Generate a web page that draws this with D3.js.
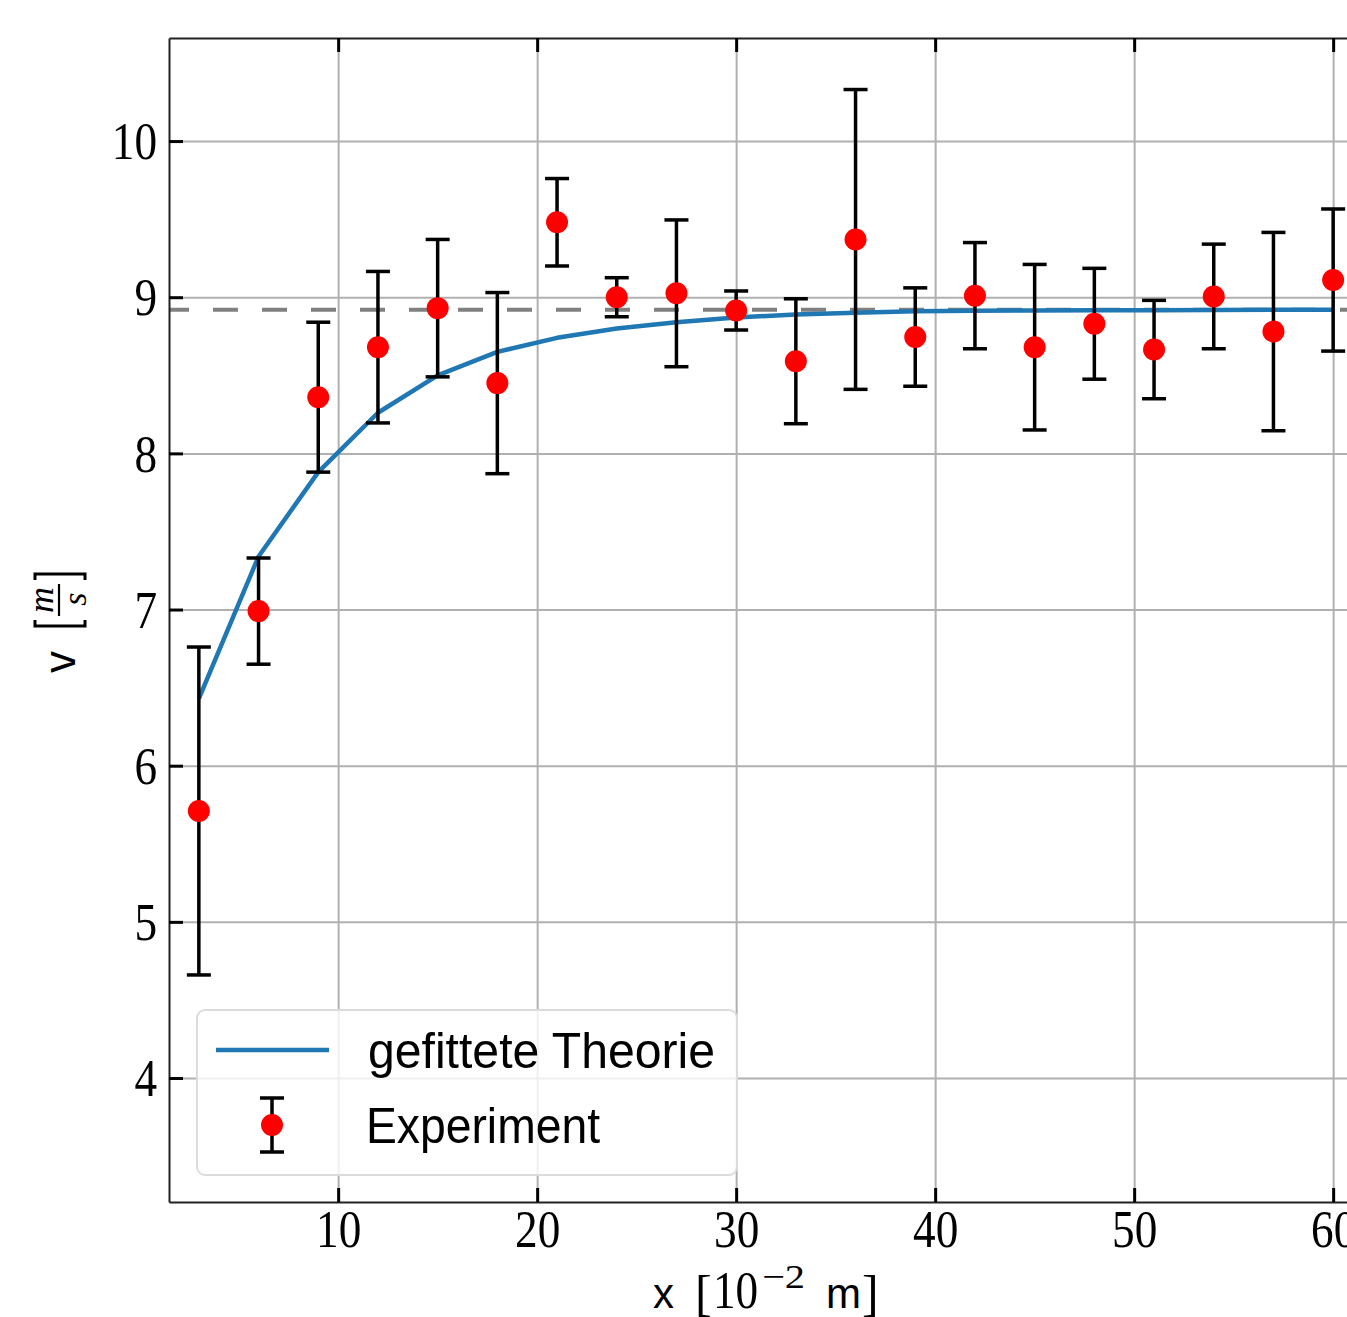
<!DOCTYPE html>
<html>
<head>
<meta charset="utf-8">
<script src="https://cdn.jsdelivr.net/npm/d3@7"></script>
<style>
  html, body { margin: 0; padding: 0; background: #fff; }
  svg { display: block; }
</style>
</head>
<body>
<svg id="chart" width="1347" height="1317"></svg>
<script>
// ---------------- data ----------------
const xPos = [3, 6, 9, 12, 15, 18, 21, 24, 27, 30, 33, 36, 39, 42, 45, 48, 51, 54, 57, 60];
const vMeasured = [5.71, 6.99, 8.36, 8.68, 8.93, 8.45, 9.48, 9.00, 9.025, 8.915, 8.59, 9.37, 8.745, 9.01, 8.68, 8.83, 8.665, 9.005, 8.78, 9.11];
const vError = [1.05, 0.34, 0.48, 0.485, 0.44, 0.58, 0.28, 0.125, 0.47, 0.125, 0.40, 0.96, 0.315, 0.34, 0.53, 0.355, 0.315, 0.335, 0.635, 0.455];
const vFit = [6.43, 7.34, 7.88, 8.26, 8.50, 8.65, 8.74, 8.80, 8.84, 8.87, 8.89, 8.90, 8.91, 8.913, 8.915, 8.916, 8.917, 8.918, 8.919, 8.919];
const vAsymptote = 8.92;
const xTicks = [10, 20, 30, 40, 50, 60];
const yTicks = [4, 5, 6, 7, 8, 9, 10];
const legendLabels = ["gefittete Theorie", "Experiment"];

// ---------------- layout ----------------
const svg = d3.select("#chart");
const L = 169, R = 1363, T = 38, B = 1202;
const x = d3.scaleLinear().domain([1.5, 61.5]).range([L, R]);
const y = d3.scaleLinear().domain([3.206, 10.66]).range([B, T]);
const SERIF = "'Liberation Serif', 'DejaVu Serif', serif";
const SANS = "'Liberation Sans', 'DejaVu Sans', sans-serif";
const DIGIT_SX = 0.87;

svg.append("defs").append("clipPath").attr("id", "plotclip")
  .append("rect").attr("x", L).attr("y", T).attr("width", R - L).attr("height", B - T);

// grid
svg.append("g").attr("transform", `translate(0,${B})`)
  .call(d3.axisBottom(x).tickValues(xTicks).tickSize(-(B - T)).tickFormat(""))
  .call(g => g.select(".domain").remove())
  .call(g => g.selectAll("line").attr("stroke", "#b0b0b0").attr("stroke-width", 2));
svg.append("g").attr("transform", `translate(${L},0)`)
  .call(d3.axisLeft(y).tickValues(yTicks).tickSize(-(R - L)).tickFormat(""))
  .call(g => g.select(".domain").remove())
  .call(g => g.selectAll("line").attr("stroke", "#b0b0b0").attr("stroke-width", 2));

const plot = svg.append("g").attr("clip-path", "url(#plotclip)");

// dashed asymptote
plot.append("line")
  .attr("x1", x(1.5)).attr("x2", x(61.5))
  .attr("y1", y(vAsymptote)).attr("y2", y(vAsymptote))
  .attr("stroke", "#808080").attr("stroke-width", 4)
  .attr("stroke-dasharray", "25,24").attr("stroke-dashoffset", 5);

// fitted curve
plot.append("path")
  .datum(xPos.map((d, i) => [d, vFit[i]]))
  .attr("fill", "none").attr("stroke", "#1f77b4").attr("stroke-width", 4.5)
  .attr("stroke-linejoin", "round").attr("stroke-linecap", "butt")
  .attr("d", d3.line().x(d => x(d[0])).y(d => y(d[1])));

// error bars
const pts = xPos.map((d, i) => ({ x: d, v: vMeasured[i], e: vError[i] }));
const eb = plot.append("g").selectAll("g").data(pts).join("g");
eb.append("line")
  .attr("x1", d => x(d.x)).attr("x2", d => x(d.x))
  .attr("y1", d => y(d.v - d.e)).attr("y2", d => y(d.v + d.e))
  .attr("stroke", "#000").attr("stroke-width", 3.5);
[-1, 1].forEach(s => {
  eb.append("line")
    .attr("x1", d => x(d.x) - 12).attr("x2", d => x(d.x) + 12)
    .attr("y1", d => y(d.v + s * d.e)).attr("y2", d => y(d.v + s * d.e))
    .attr("stroke", "#000").attr("stroke-width", 3.5);
});
eb.append("circle")
  .attr("cx", d => x(d.x)).attr("cy", d => y(d.v)).attr("r", 11)
  .attr("fill", "#ff0000");

// axes with inward ticks
function styleTicks(g) {
  g.select(".domain").attr("stroke", "#222").attr("stroke-width", 2);
  g.selectAll(".tick line").attr("stroke", "#000").attr("stroke-width", 3);
}
svg.append("g").attr("transform", `translate(0,${B})`)
  .call(d3.axisBottom(x).tickValues(xTicks).tickSize(-14).tickSizeOuter(0).tickFormat(d3.format("d")))
  .call(styleTicks)
  .call(g => g.selectAll(".tick text")
    .attr("y", 45).attr("dy", null).attr("x", 0)
    .attr("transform", `scale(${DIGIT_SX},1)`)
    .attr("font-family", SERIF).attr("font-size", 52).attr("fill", "#000"));
svg.append("g").attr("transform", `translate(0,${T})`)
  .call(d3.axisTop(x).tickValues(xTicks).tickSize(-14).tickSizeOuter(0).tickFormat(""))
  .call(styleTicks);
svg.append("g").attr("transform", `translate(${L},0)`)
  .call(d3.axisLeft(y).tickValues(yTicks).tickSize(-14).tickSizeOuter(0).tickFormat(d3.format("d")))
  .call(styleTicks)
  .call(g => g.selectAll(".tick text")
    .attr("x", -12 / DIGIT_SX).attr("dy", "0.34em")
    .attr("transform", `scale(${DIGIT_SX},1)`)
    .attr("text-anchor", "end")
    .attr("font-family", SERIF).attr("font-size", 52).attr("fill", "#000"));
// right spine (mostly off canvas)
svg.append("line").attr("x1", R).attr("x2", R).attr("y1", T).attr("y2", B)
  .attr("stroke", "#222").attr("stroke-width", 2);

// ---------------- x label ----------------
const xl = svg.append("g").attr("fill", "#000");
const xb = 1308;
xl.append("text").attr("x", 653).attr("y", xb).attr("font-family", SANS).attr("font-size", 42).text("x");
xl.append("text").attr("x", 695).attr("y", xb + 2).attr("font-family", SERIF).attr("font-size", 50).text("[");
xl.append("text").attr("x", 713 / DIGIT_SX).attr("y", xb).attr("transform", `scale(${DIGIT_SX},1)`)
  .attr("font-family", SERIF).attr("font-size", 52).text("10");
xl.append("text").attr("x", 762).attr("y", 1288).attr("font-family", SERIF).attr("font-size", 34)
  .attr("textLength", 43).attr("lengthAdjust", "spacingAndGlyphs").text("\u22122");
xl.append("text").attr("x", 826).attr("y", xb).attr("font-family", SANS).attr("font-size", 42).text("m");
xl.append("text").attr("x", 862).attr("y", xb + 2).attr("font-family", SERIF).attr("font-size", 50).text("]");

// ---------------- y label ----------------
const yl = svg.append("g").attr("transform", "translate(60,620) rotate(-90)");
yl.append("text").attr("x", -53).attr("y", 15).attr("font-family", SANS).attr("font-size", 44).attr("fill", "#000").text("v");
yl.append("path").attr("d", "M0,-25 L-6,-25 L-6,25 L0,25")
  .attr("fill", "none").attr("stroke", "#000").attr("stroke-width", 3);
yl.append("path").attr("d", "M40,-25 L46,-25 L46,25 L40,25")
  .attr("fill", "none").attr("stroke", "#000").attr("stroke-width", 3);
yl.append("line").attr("x1", 4).attr("x2", 36).attr("y1", -1).attr("y2", -1)
  .attr("stroke", "#000").attr("stroke-width", 2.2);
yl.append("text").attr("x", 20).attr("y", -7).attr("text-anchor", "middle")
  .attr("font-family", SERIF).attr("font-style", "italic").attr("font-size", 36).attr("fill", "#000").text("m");
yl.append("text").attr("x", 21).attr("y", 26).attr("text-anchor", "middle")
  .attr("font-family", SERIF).attr("font-style", "italic").attr("font-size", 34).attr("fill", "#000").text("s");

// ---------------- legend ----------------
const lg = svg.append("g");
lg.append("rect").attr("x", 197).attr("y", 1010).attr("width", 540).attr("height", 165)
  .attr("rx", 8).attr("ry", 8)
  .attr("fill", "#fff").attr("fill-opacity", 0.8)
  .attr("stroke", "#dcdcdc").attr("stroke-width", 2);
lg.append("line").attr("x1", 216).attr("x2", 329).attr("y1", 1050).attr("y2", 1050)
  .attr("stroke", "#1f77b4").attr("stroke-width", 4.5);
lg.append("text").attr("x", 368).attr("y", 1068).attr("font-family", SANS).attr("font-size", 50)
  .attr("textLength", 347).attr("lengthAdjust", "spacingAndGlyphs").attr("fill", "#000").text(legendLabels[0]);
lg.append("line").attr("x1", 272).attr("x2", 272).attr("y1", 1098).attr("y2", 1152)
  .attr("stroke", "#000").attr("stroke-width", 3.5);
[1098, 1152].forEach(yy => lg.append("line").attr("x1", 260).attr("x2", 284).attr("y1", yy).attr("y2", yy)
  .attr("stroke", "#000").attr("stroke-width", 3.5));
lg.append("circle").attr("cx", 272).attr("cy", 1125).attr("r", 11).attr("fill", "#ff0000");
lg.append("text").attr("x", 366).attr("y", 1143).attr("font-family", SANS).attr("font-size", 50)
  .attr("textLength", 234).attr("lengthAdjust", "spacingAndGlyphs").attr("fill", "#000").text(legendLabels[1]);
</script>
</body>
</html>
